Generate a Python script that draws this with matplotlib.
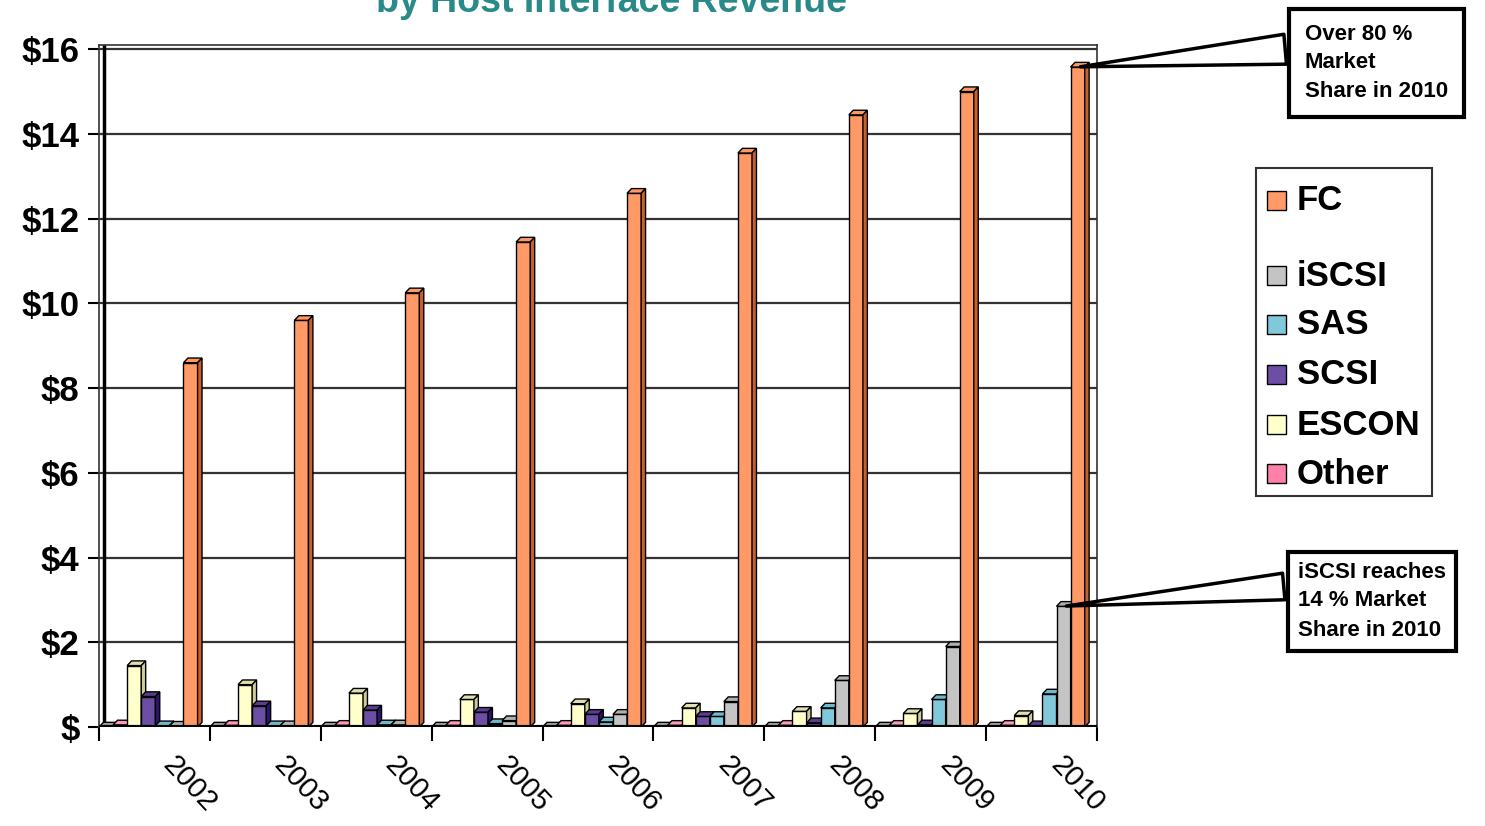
import matplotlib.pyplot as plt
from matplotlib.patches import Polygon, Rectangle

plt.rcParams['font.family'] = ['Liberation Sans', 'DejaVu Sans']

years = ['2002', '2003', '2004', '2005', '2006', '2007', '2008', '2009', '2010']
blank = [0, 0, 0, 0, 0, 0, 0, 0, 0]
other = [0.05, 0.04, 0.04, 0.04, 0.04, 0.04, 0.04, 0.04, 0.04]
escon = [1.45, 1.0, 0.8, 0.65, 0.55, 0.45, 0.37, 0.32, 0.27]
scsi = [0.72, 0.5, 0.4, 0.35, 0.3, 0.25, 0.1, 0.05, 0.03]
sas = [0.03, 0.03, 0.05, 0.08, 0.12, 0.25, 0.45, 0.65, 0.78]
iscsi = [0.02, 0.03, 0.05, 0.15, 0.3, 0.6, 1.1, 1.9, 2.85]
fc = [8.6, 9.6, 10.25, 11.45, 12.6, 13.55, 14.45, 15.0, 15.58]

# series in drawing order inside a group: values, front, top, side
series = [
    (blank, '#a8a8a8', '#a0a0a0', '#707070'),
    (other, '#ff80a8', '#ff99bb', '#c05078'),
    (escon, '#ffffcc', '#e0e0b0', '#cccc99'),
    (scsi, '#6c4ea4', '#5a3c90', '#2e1466'),
    (sas, '#80c8da', '#70b8cc', '#4a95a8'),
    (iscsi, '#c4c4c4', '#b0b0b0', '#8c8c8c'),
    (fc, '#ff9966', '#ff9966', '#c8602e'),
]
legend_items = [('FC', '#ff9966'), (None, None), ('iSCSI', '#c4c4c4'),
                ('SAS', '#80c8da'), ('SCSI', '#6c4ea4'), ('ESCON', '#ffffcc'),
                ('Other', '#ff80a8')]

W, H = 1485, 826
fig = plt.figure(figsize=(W / 100, H / 100), dpi=100)
ax = fig.add_axes([99 / W, 1 - 727 / H, 998 / W, 682 / H])
ax.set_xlim(0, 9)
ax.set_ylim(0, 16.1)

slot = 0.127
dx, dy = 0.04, 0.11
z = 3
for i in range(len(years)):
    for k, (vals, front, top, side) in enumerate(series):
        x0 = i + k * slot
        h = vals[i]
        ax.bar(x0, h, width=slot, align='edge', color=front, edgecolor='black',
               linewidth=1, zorder=z)
        ax.add_patch(Polygon([(x0, h), (x0 + dx, h + dy), (x0 + slot + dx, h + dy),
                              (x0 + slot, h)], closed=True, fc=top, ec='black',
                             lw=1, zorder=z))
        ax.add_patch(Polygon([(x0 + slot, 0), (x0 + slot + dx, dy),
                              (x0 + slot + dx, h + dy), (x0 + slot, h)], closed=True,
                             fc=side, ec='black', lw=1, zorder=z))
        z += 1

# walls, floor and grid
for v in range(2, 17, 2):
    ax.axhline(v, color='#333333', lw=1.6, zorder=1)
ax.axvline(0.045, color='black', lw=2.5, zorder=2)
ax.axhline(0, color='black', lw=3, zorder=200)
for s in ['left', 'top', 'right']:
    ax.spines[s].set_linewidth(1.2)
    ax.spines[s].set_color('#333333')
ax.spines['bottom'].set_visible(False)

ax.set_yticks(range(0, 17, 2))
ax.set_yticklabels(['$'] + ['$%d' % v for v in range(2, 17, 2)],
                   fontsize=25, fontweight='bold')
ax.tick_params(axis='y', direction='out', length=8, width=1.5, pad=6)

ax.set_xticks([i + 0.62 for i in range(len(years))])
ax.set_xticklabels(years, fontsize=21, rotation=-47, rotation_mode='anchor',
                   ha='left', va='center')
ax.set_xticks(range(len(years) + 1), minor=True)
ax.tick_params(axis='x', which='major', length=0, pad=24)
ax.tick_params(axis='x', which='minor', direction='out', length=10, width=1.5)

fig.text(612 / W, 1 - 12 / H, 'by Host Interface Revenue', color='#2a8a8a',
         fontsize=27, fontweight='bold', ha='center', va='baseline')

# callouts
ax.annotate('Over 80 %\nMarket\nShare in 2010', xy=(8 + 6 * slot + slot / 2, fc[-1]),
            xycoords='data', xytext=(1305 / W, 1 - 63 / H), textcoords='figure fraction',
            fontsize=16, fontweight='bold', ha='left', va='center', linespacing=1.45,
            bbox=dict(boxstyle='square,pad=0.7', fc='white', ec='black', lw=3),
            arrowprops=dict(arrowstyle='wedge,tail_width=1.35,shrink_factor=0.5',
                            relpos=(0, 0.7), fc='white', ec='black', lw=2.5),
            zorder=300)
ax.annotate('iSCSI reaches\n14 % Market\nShare in 2010', xy=(8 + 5 * slot + slot / 2, iscsi[-1]),
            xycoords='data', xytext=(1298 / W, 1 - 601 / H), textcoords='figure fraction',
            fontsize=16, fontweight='bold', ha='left', va='center', linespacing=1.5,
            bbox=dict(boxstyle='square,pad=0.45', fc='white', ec='black', lw=3),
            arrowprops=dict(arrowstyle='wedge,tail_width=1.2,shrink_factor=0.5',
                            relpos=(0, 0.7), fc='white', ec='black', lw=2.5),
            zorder=300)

# legend box
fig.add_artist(Rectangle((1256 / W, 1 - 496 / H), 176 / W, 328 / H, fc='white',
                         ec='#333333', lw=1.5, transform=fig.transFigure))
rows = [201, 238, 276, 325, 375, 425, 474]
for (name, col), y in zip(legend_items, rows):
    if name is None:
        continue
    fig.add_artist(Rectangle((1267 / W, 1 - (y + 9) / H), 19 / W, 19 / H, fc=col,
                             ec='black', lw=1, transform=fig.transFigure))
    fig.text(1297 / W, 1 - y / H, name, fontsize=25, fontweight='bold',
             ha='left', va='center')

fig.savefig('out.png', dpi=100)
